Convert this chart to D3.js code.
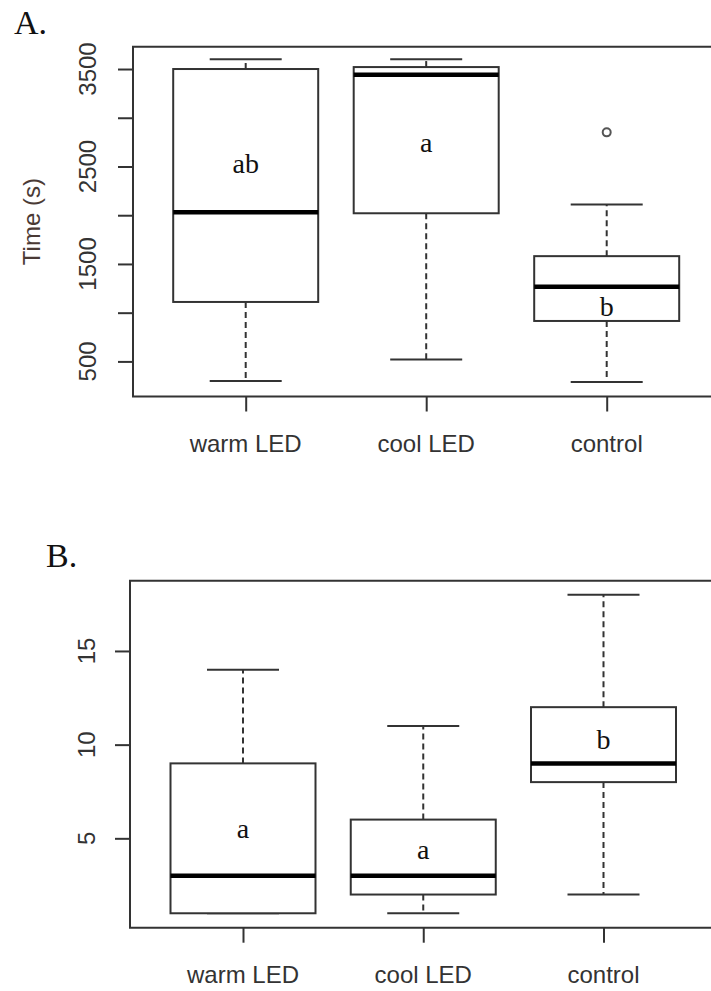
<!DOCTYPE html>
<html>
<head>
<meta charset="utf-8">
<script src="https://cdn.jsdelivr.net/npm/d3@7"></script>
<style>
  html, body { margin: 0; padding: 0; background: #fff; }
  svg { display: block; }
</style>
</head>
<body>
<script>
// ---------- DATA ----------
const categories = ["warm LED", "cool LED", "control"];

// Panel A: Time (s)
const lowerWhiskerA = [300, 520, 290];
const q1A = [1110, 2020, 915];
const medianA = [2030, 3440, 1265];
const q3A = [3500, 3520, 1580];
const upperWhiskerA = [3600, 3600, 2110];
const outliersA = [[], [], [2850]];
const lettersA = ["ab", "a", "b"];
const letterValA = [2432, 2650, 962];
const ticksA = [500, 1000, 1500, 2000, 2500, 3000, 3500];
const tickLabelsA = ["500", "", "1500", "", "2500", "", "3500"];
const domainA = [140, 3729];

// Panel B
const lowerWhiskerB = [1, 1, 2];
const q1B = [1, 2, 8];
const medianB = [3, 3, 9];
const q3B = [9, 6, 12];
const upperWhiskerB = [14, 11, 18];
const outliersB = [[], [], []];
const lettersB = ["a", "a", "b"];
const letterValB = [5.0, 3.88, 9.75];
const ticksB = [5, 10, 15];
const tickLabelsB = ["5", "10", "15"];
const domainB = [0.23, 18.75];

// ---------- DRAW ----------
const W = 711, H = 991;
const svg = d3.select("body").append("svg").attr("width", W).attr("height", H);

const lineCol = "#333";
const sansFont = "'Liberation Sans', Arial, sans-serif";
const serifFont = "'Liberation Serif', 'Times New Roman', serif";

function panel(opts) {
  const g = svg.append("g");
  const y = d3.scaleLinear().domain(opts.domain).range([opts.bottom, opts.top]);
  const x = d3.scalePoint().domain(categories).range(opts.xRange);
  const boxHalf = 72.5, capHalf = 36;

  // frame (right side runs off the picture)
  g.append("path")
    .attr("d", `M${W + 20},${opts.top} H${opts.left} V${opts.bottom} H${W + 20}`)
    .attr("fill", "none").attr("stroke", lineCol).attr("stroke-width", 2);

  // y axis
  const yAxis = d3.axisLeft(y).tickValues(opts.ticks)
    .tickFormat((d, i) => opts.tickLabels[i]).tickSize(15).tickPadding(0);
  const ya = g.append("g").attr("transform", `translate(${opts.left},0)`).call(yAxis);
  ya.select(".domain").remove();
  ya.selectAll(".tick line").attr("stroke", lineCol).attr("stroke-width", 2);
  ya.selectAll(".tick text").remove();
  g.selectAll(".ytl").data(opts.ticks).enter().append("text")
    .attr("class", "ytl")
    .attr("transform", d => `translate(${opts.tickLabelX},${y(d)}) rotate(-90)`)
    .attr("text-anchor", "middle").attr("dy", "0.35em")
    .attr("font-family", sansFont).attr("font-size", 24).attr("fill", "#333")
    .text((d, i) => opts.tickLabels[i]);

  // x axis
  const xAxis = d3.axisBottom(x).tickSize(15).tickPadding(0).tickFormat("");
  const xa = g.append("g").attr("transform", `translate(0,${opts.bottom})`).call(xAxis);
  xa.select(".domain").remove();
  xa.selectAll(".tick line").attr("stroke", lineCol).attr("stroke-width", 2);
  g.selectAll(".xtl").data(categories).enter().append("text")
    .attr("class", "xtl")
    .attr("x", d => x(d)).attr("y", opts.xLabelBaseline)
    .attr("text-anchor", "middle")
    .attr("font-family", sansFont).attr("font-size", 24).attr("fill", "#333")
    .text(d => d);

  // boxes
  categories.forEach((c, i) => {
    const cx = x(c);
    const bg = g.append("g");
    // whiskers (dashed)
    if (opts.uw[i] > opts.q3[i]) {
      bg.append("line").attr("x1", cx).attr("x2", cx)
        .attr("y1", y(opts.q3[i])).attr("y2", y(opts.uw[i]))
        .attr("stroke", lineCol).attr("stroke-width", 2).attr("stroke-dasharray", "6,4");
    }
    if (opts.lw[i] < opts.q1[i]) {
      bg.append("line").attr("x1", cx).attr("x2", cx)
        .attr("y1", y(opts.q1[i])).attr("y2", y(opts.lw[i]))
        .attr("stroke", lineCol).attr("stroke-width", 2).attr("stroke-dasharray", "6,4");
    }
    // caps
    [opts.uw[i], opts.lw[i]].forEach(v => {
      bg.append("line").attr("x1", cx - capHalf).attr("x2", cx + capHalf)
        .attr("y1", y(v)).attr("y2", y(v))
        .attr("stroke", lineCol).attr("stroke-width", 2);
    });
    // box
    bg.append("rect").attr("x", cx - boxHalf).attr("width", boxHalf * 2)
      .attr("y", y(opts.q3[i])).attr("height", y(opts.q1[i]) - y(opts.q3[i]))
      .attr("fill", "#fff").attr("stroke", lineCol).attr("stroke-width", 2);
    // median
    bg.append("line").attr("x1", cx - boxHalf).attr("x2", cx + boxHalf)
      .attr("y1", y(opts.med[i])).attr("y2", y(opts.med[i]))
      .attr("stroke", "#000").attr("stroke-width", 4.5);
    // outliers
    opts.out[i].forEach(v => {
      bg.append("circle").attr("cx", cx).attr("cy", y(v)).attr("r", 4)
        .attr("fill", "none").attr("stroke", "#555").attr("stroke-width", 2);
    });
    // letters
    bg.append("text").attr("x", cx).attr("y", y(opts.letterVal[i]))
      .attr("text-anchor", "middle")
      .attr("font-family", serifFont).attr("font-size", 28).attr("fill", "#111")
      .text(opts.letters[i]);
  });

  // panel label
  svg.append("text").attr("x", opts.labelX).attr("y", opts.labelY)
    .attr("font-family", serifFont).attr("font-size", 34).attr("fill", "#111")
    .text(opts.panelLabel);

  if (opts.yTitle) {
    svg.append("text")
      .attr("transform", `translate(${opts.yTitleX},${(opts.top + opts.bottom) / 2}) rotate(-90)`)
      .attr("text-anchor", "middle").attr("dy", "0.35em")
      .attr("font-family", sansFont).attr("font-size", 24).attr("fill", "#4a3a35")
      .text(opts.yTitle);
  }
}

panel({
  domain: domainA, top: 46.7, bottom: 396.5, left: 133, xRange: [245.7, 606.7],
  ticks: ticksA, tickLabels: tickLabelsA, tickLabelX: 88, xLabelBaseline: 451.5,
  lw: lowerWhiskerA, q1: q1A, med: medianA, q3: q3A, uw: upperWhiskerA, out: outliersA,
  letters: lettersA, letterVal: letterValA,
  panelLabel: "A.", labelX: 14, labelY: 33.5, yTitle: "Time (s)", yTitleX: 32
});

panel({
  domain: domainB, top: 580.7, bottom: 927.7, left: 130, xRange: [243, 603.5],
  ticks: ticksB, tickLabels: tickLabelsB, tickLabelX: 87, xLabelBaseline: 983,
  lw: lowerWhiskerB, q1: q1B, med: medianB, q3: q3B, uw: upperWhiskerB, out: outliersB,
  letters: lettersB, letterVal: letterValB,
  panelLabel: "B.", labelX: 46, labelY: 566.7, yTitle: null
});
</script>
</body>
</html>
